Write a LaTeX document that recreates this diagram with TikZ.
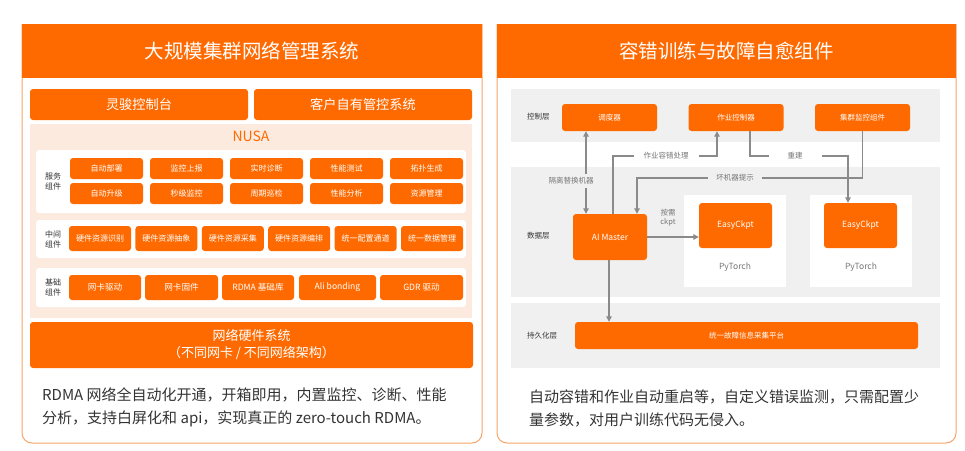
\documentclass[tikz,border=0pt]{standalone}
\usepackage{fontspec}
\setmainfont{Noto Sans CJK SC}
\usepackage{tikz}
\usetikzlibrary{arrows.meta, positioning, calc}
\definecolor{ali}{HTML}{FF6A00}
\definecolor{rim}{HTML}{F5A46A}
\definecolor{peach}{HTML}{FCEADF}
\definecolor{layergray}{HTML}{F0F0F0}
\definecolor{wire}{HTML}{8A8A8A}
\definecolor{labgray}{HTML}{777777}
\definecolor{ink}{HTML}{333333}

\begin{document}
\begin{tikzpicture}[
  x=1pt, y=-1pt,
  >={Triangle[length=5.5pt,width=5.5pt]},
  panel/.style={draw=rim, line width=1pt, rounded corners=10pt},
  head/.style={fill=ali, text=white, inner sep=0pt, minimum width=460, minimum height=54, font=\fontsize{19.5}{23}\selectfont},
  obox/.style={fill=ali, rounded corners=3pt, text=white, inner sep=0pt, align=center},
  wbox/.style={fill=white, rounded corners=3pt, inner sep=0pt},
  layer/.style={fill=layergray, inner sep=0pt, minimum width=429},
  sbtn/.style={obox, minimum width=73, minimum height=21, font=\fontsize{8}{10}\selectfont},
  mbtn/.style={obox, minimum width=62, minimum height=25, font=\fontsize{8}{10}\selectfont},
  bbtn/.style={obox, minimum height=25, font=\fontsize{8.6}{10}\selectfont},
  side/.style={text=ink, align=center, inner sep=0pt, font=\fontsize{8}{10}\selectfont},
  ctl/.style={obox, minimum width=95, minimum height=27, font=\fontsize{7.5}{9}\selectfont},
  lay/.style={text=ink, anchor=west, inner sep=0pt, font=\fontsize{7.5}{9}\selectfont},
  tag/.style={text=labgray, inner ysep=4pt, font=\fontsize{7.5}{9}\selectfont},
  wire/.style={draw=wire, line width=1.1pt},
  desc/.style={text=ink, anchor=west, align=left, inner sep=0pt, font=\fontsize{15}{23}\selectfont},
]
  \useasboundingbox (0,0) rectangle (965,450);

  % left panel
  \draw[panel] (22,24) |- (482,443) -- (482,24);
  \node[head] (lhead) at (252,51) {大规模集群网络管理系统};
  \node[obox, minimum width=218, minimum height=31, font=\fontsize{13.2}{16}\selectfont] (console) at (139,104.5) {灵骏控制台};
  \node[obox, minimum width=218, minimum height=31, font=\fontsize{13.2}{16}\selectfont] (custom) at (363,104.5) {客户自有管控系统};

  \node[fill=peach, inner sep=0pt, minimum width=442, minimum height=194] (nusa) at (251,221) {};
  \node[text=ali, font=\fontsize{14}{16}\selectfont] (nusat) at (251,136) {NUSA};

  \node[wbox, minimum width=430, minimum height=63] (svc) at (251,181.5) {};
  \node[side] (svct) at (53,181) {服务\\组件};
  \foreach \t [count=\i from 0] in {自动部署,监控上报,实时诊断,性能测试,拓扑生成}
    \node[sbtn] (sa\i) at (106.5+80*\i,168.5) {\t};
  \foreach \t [count=\i from 0] in {自动升级,秒级监控,周期巡检,性能分析,资源管理}
    \node[sbtn] (sb\i) at (106.5+80*\i,193.5) {\t};

  \node[wbox, minimum width=430, minimum height=38] (mid) at (251,239) {};
  \node[side] (midt) at (53,239) {中间\\组件};
  \foreach \t [count=\i from 0] in {硬件资源识别,硬件资源抽象,硬件资源采集,硬件资源编排,统一配置通道,统一数据管理}
    \node[mbtn] (m\i) at (100+66.4*\i,238.5) {\t};

  \node[wbox, minimum width=430, minimum height=39] (base) at (251,287.5) {};
  \node[side] (baset) at (53,287.5) {基础\\组件};
  \foreach \cx/\w/\t [count=\i] in {105/72/网卡驱动, 181.5/73/网卡固件, 258/72/RDMA 基础库, 337.5/77/Ali bonding, 421.5/83/GDR 驱动}
    \node[bbtn, minimum width=\w] (b\i) at (\cx,287.5) {\t};

  \node[obox, minimum width=443, minimum height=46, font=\fontsize{13}{17}\selectfont] (hw) at (251.5,345) {网络硬件系统\\（不同网卡 / 不同网络架构）};

  \node[desc] (ldesc) at (42,407.5) {RDMA 网络全自动化开通，开箱即用，内置监控、诊断、性能\\分析，支持白屏化和 api，实现真正的 zero-touch RDMA。};

  % right panel
  \draw[panel] (497,24) |- (956,443) -- (956,24);
  \node[head, minimum width=459] (rhead) at (726.5,51) {容错训练与故障自愈组件};

  \node[layer, minimum height=53] (ctrl) at (725.5,115.5) {};
  \node[layer, minimum height=130] (data) at (725.5,232) {};
  \node[layer, minimum height=65] (keep) at (725.5,335.5) {};
  \node[lay] (ctrlt) at (527,117) {控制层};
  \node[lay] (datat) at (527,236) {数据层};
  \node[lay] (keept) at (527,336) {持久化层};

  \node[ctl] (sched) at (609.5,117.5) {调度器};
  \node[ctl] (job) at (736,117.5) {作业控制器};
  \node[ctl] (monitor) at (862.5,117.5) {集群监控组件};

  \node[wbox, rounded corners=0pt, minimum width=102, minimum height=92] (torch1) at (735,241) {};
  \node[wbox, rounded corners=0pt, minimum width=102, minimum height=92] (torch2) at (861,241) {};
  \node[text=labgray, font=\fontsize{8.5}{10}\selectfont] (torch1t) at (735,267) {PyTorch};
  \node[text=labgray, font=\fontsize{8.5}{10}\selectfont] (torch2t) at (861,267) {PyTorch};
  \node[obox, minimum width=73, minimum height=45, font=\fontsize{8.5}{10}\selectfont] (ckpt1) at (735.5,225.5) {EasyCkpt};
  \node[obox, minimum width=73, minimum height=45, font=\fontsize{8.5}{10}\selectfont] (ckpt2) at (860.5,225.5) {EasyCkpt};
  \node[obox, minimum width=74, minimum height=46, font=\fontsize{8.5}{10}\selectfont] (master) at (610,237) {AI Master};
  \node[obox, minimum width=343, minimum height=27, font=\fontsize{7.5}{9}\selectfont] (platform) at (746.5,335.5) {统一故障信息采集平台};

  \coordinate (row1) at (0,156);
  \coordinate (row2) at (0,178);
  \coordinate (isoA) at ([xshift=-24pt]master.north);
  \coordinate (failA) at ([xshift=3pt]master.north);
  \coordinate (badB) at ([xshift=27pt]master.north);
  \coordinate (failB) at ([xshift=-19pt]job.south);
  \coordinate (buildA) at ([xshift=14pt]job.south);
  \coordinate (buildB) at ([xshift=-12.5pt]ckpt2.north);

  \draw[wire, <->] (isoA) -- (isoA |- sched.south);
  \draw[wire, ->] (failA) |- (failB |- row1) -- (failB);
  \draw[wire, ->] (buildA) |- (buildB |- row1) -- (buildB);
  \draw[wire, ->] (monitor.south) |- (badB |- row2) -- (badB);
  \draw[wire, ->] (master.east) -- (master.east -| ckpt1.west);
  \draw[wire, ->] ([xshift=-1pt]master.south) -- ([xshift=-1pt]master.south |- platform.north);

  \node[tag, fill=layergray, inner xsep=2pt] (tiso) at (571,181) {隔离替换机器};
  \node[tag, fill=white, inner xsep=10pt] (tfail) at (666,156) {作业容错处理};
  \node[tag, fill=white, inner xsep=19pt] (tbuild) at (795,156) {重建};
  \node[tag, fill=layergray, inner xsep=8pt] (tbad) at (735,178) {坏机器提示};
  \node[text=labgray, align=center, inner sep=0pt, font=\fontsize{7.5}{9}\selectfont] (tckpt) at (668,218) {按需\\ckpt};

  \node[desc] (rdesc) at (529,408.5) {自动容错和作业自动重启等，自定义错误监测，只需配置少\\量参数，对用户训练代码无侵入。};
\end{tikzpicture}
\end{document}
